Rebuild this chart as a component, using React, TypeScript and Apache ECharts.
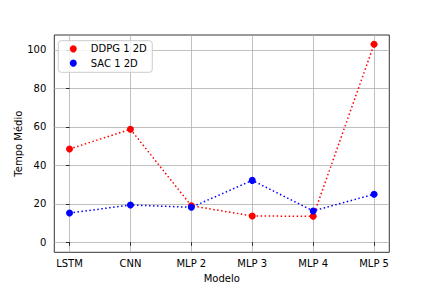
import React, { useEffect, useRef } from "react";
import * as echarts from "echarts";

const categories = ["LSTM", "CNN", "MLP 2", "MLP 3", "MLP 4", "MLP 5"];
const ddpg = [48.5, 58.8, 19.0, 13.7, 13.5, 103.0];
const sac = [15.2, 19.4, 18.2, 32.2, 16.3, 25.0];
const yTicks = [0, 20, 40, 60, 80, 100];
const xTicks = [0, 1, 2, 3, 4, 5];

const FONT = "DejaVu Sans";

export default function App() {
  const ref = useRef<HTMLDivElement>(null);
  useEffect(() => {
    if (!ref.current) return;
    const chart = echarts.init(ref.current, null, { renderer: "svg" });
    const dotted = { type: [1.5, 2.5] as any, width: 1.5 };
    chart.setOption({
      animation: false,
      grid: {
        left: 54.3,
        right: 42.7,
        top: 35,
        bottom: 35.7,
        show: true,
        borderColor: "#000",
        borderWidth: 0.8,
        backgroundColor: "transparent",
        outerBoundsMode: "none",
        containLabel: false,
      },
      legend: {
        left: 58.3,
        top: 40.7,
        orient: "vertical",
        icon: "circle",
        itemWidth: 7,
        itemHeight: 7,
        itemGap: 0,
        padding: [1, 5.5, 2, 11.5],
        borderColor: "#cccccc",
        borderWidth: 1,
        borderRadius: 3,
        backgroundColor: "rgba(255,255,255,0.8)",
        textStyle: {
          fontFamily: FONT,
          fontSize: 10,
          color: "#000",
          lineHeight: 14.3,
          padding: [0, 0, 0, 9],
        },
        data: ["DDPG 1 2D", "SAC 1 2D"],
      },
      xAxis: {
        type: "value",
        min: -0.25,
        max: 5.25,
        name: "Modelo",
        nameLocation: "middle",
        nameGap: 21,
        nameMoveOverlap: false,
        nameTextStyle: { fontFamily: FONT, fontSize: 10, color: "#000" },
        axisLine: { show: false },
        axisTick: {
          show: true,
          length: 3.5,
          customValues: xTicks,
          lineStyle: { color: "#000", width: 0.8 },
        },
        axisLabel: {
          customValues: xTicks,
          margin: 6,
          fontFamily: FONT,
          fontSize: 10,
          color: "#000",
          formatter: (v: number) => categories[Math.round(v)] ?? "",
        },
        splitLine: { show: true, lineStyle: { color: "#b0b0b0", width: 0.8 } },
      },
      yAxis: {
        type: "value",
        min: -5.2,
        max: 107.8,
        name: "Tempo Médio",
        nameLocation: "middle",
        nameGap: 31,
        nameMoveOverlap: false,
        nameTextStyle: { fontFamily: FONT, fontSize: 10, color: "#000" },
        axisLine: { show: false },
        axisTick: {
          show: true,
          length: 3.5,
          customValues: yTicks,
          lineStyle: { color: "#000", width: 0.8 },
        },
        axisLabel: {
          customValues: yTicks,
          margin: 8,
          fontFamily: FONT,
          fontSize: 10,
          color: "#000",
        },
        splitLine: { show: true, lineStyle: { color: "#b0b0b0", width: 0.8 } },
      },
      series: [
        {
          name: "DDPG 1 2D",
          type: "line",
          data: ddpg.map((v, i) => [xTicks[i], v]),
          symbol: "circle",
          symbolSize: 7,
          itemStyle: { color: "#ff0000" },
          lineStyle: { ...dotted, color: "#ff0000" },
          z: 3,
        },
        {
          name: "SAC 1 2D",
          type: "line",
          data: sac.map((v, i) => [xTicks[i], v]),
          symbol: "circle",
          symbolSize: 7,
          itemStyle: { color: "#0000ff" },
          lineStyle: { ...dotted, color: "#0000ff" },
          z: 4,
        },
      ],
    });
    return () => chart.dispose();
  }, []);
  return <div ref={ref} style={{ width: 432, height: 288, position: "absolute", left: 0, top: 0 }} />;
}
